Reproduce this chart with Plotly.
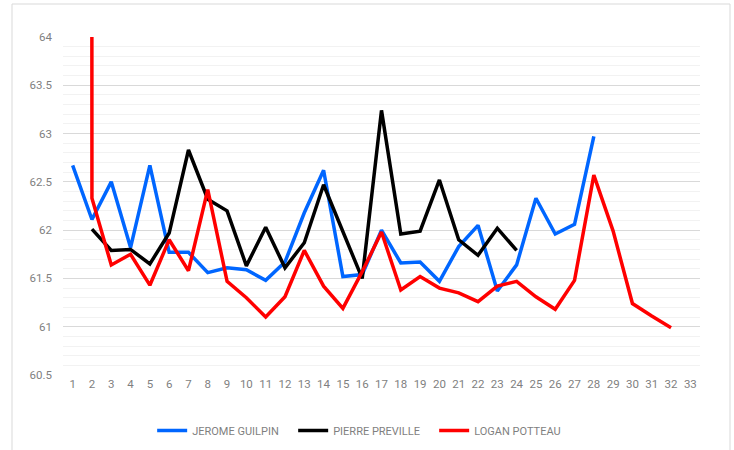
import plotly.graph_objects as go

rounds = list(range(1, 34))

jerome_x = list(range(1, 29))
jerome = [62.67, 62.11, 62.50, 61.82, 62.67, 61.77, 61.77, 61.56, 61.61, 61.59,
          61.48, 61.67, 62.18, 62.62, 61.52, 61.54, 62.00, 61.66, 61.67, 61.47,
          61.83, 62.05, 61.37, 61.64, 62.33, 61.96, 62.06, 62.97]

pierre_x = list(range(2, 25))
pierre = [62.01, 61.79, 61.80, 61.65, 61.97, 62.83, 62.32, 62.20, 61.63, 62.03,
          61.61, 61.87, 62.47, 61.99, 61.50, 63.24, 61.96, 61.99, 62.52, 61.90,
          61.74, 62.02, 61.79]

logan_x = list(range(1, 33))
logan = [500.0, 62.33, 61.64, 61.75, 61.43, 61.90, 61.58, 62.42, 61.47, 61.30,
         61.10, 61.31, 61.79, 61.42, 61.19, 61.57, 61.98, 61.38, 61.52, 61.40,
         61.35, 61.26, 61.42, 61.47, 61.31, 61.18, 61.48, 62.57, 61.99, 61.24,
         61.11, 60.99]

y_ticks = [60.5, 61, 61.5, 62, 62.5, 63, 63.5, 64]

fig = go.Figure()
fig.add_trace(go.Scatter(x=jerome_x, y=jerome, mode="lines", name="JEROME GUILPIN",
                         line=dict(color="#0066FF", width=3.5)))
fig.add_trace(go.Scatter(x=pierre_x, y=pierre, mode="lines", name="PIERRE PREVILLE",
                         line=dict(color="#000000", width=3.5)))
fig.add_trace(go.Scatter(x=logan_x, y=logan, mode="lines", name="LOGAN POTTEAU",
                         line=dict(color="#FF0000", width=3.5)))

L, R, T, B = 63, 34, 37, 75
W, H = 734, 450
pw, ph = W - L - R, H - T - B

fig.update_layout(
    width=W, height=H,
    margin=dict(l=L, r=R, t=T, b=B, autoexpand=False),
    paper_bgcolor="white", plot_bgcolor="white",
    font=dict(family="Roboto, Liberation Sans, sans-serif", size=11, color="#7f7f7f"),
    showlegend=True,
    legend=dict(orientation="h", x=0.472, xanchor="center", y=-0.121, yanchor="top",
                font=dict(size=11, color="#7f7f7f"), itemwidth=30,
                traceorder="normal", entrywidth=96),
    xaxis=dict(range=[0.5, 33.5], tickmode="array", tickvals=rounds,
               ticktext=[str(r) for r in rounds], showgrid=False, zeroline=False,
               showline=False, ticks="", automargin=False,
               tickfont=dict(size=11.5, color="#7f7f7f")),
    yaxis=dict(range=[60.5, 64], tickmode="array", tickvals=y_ticks,
               ticktext=[f"{v:g}" for v in y_ticks], showgrid=True,
               gridcolor="#d9d9d9", gridwidth=1, zeroline=False, showline=False,
               ticks="", ticklabelstandoff=10, automargin=False,
               minor=dict(dtick=0.1, showgrid=True, gridcolor="#f2f2f2", gridwidth=1),
               tickfont=dict(size=11.5, color="#7f7f7f")),
    shapes=[dict(type="rect", xref="paper", yref="paper",
                 x0=(12 - L) / pw, x1=(730 - L) / pw,
                 y0=-(H + 20 - T - ph) / ph - 0.01, y1=1 + (T - 4) / ph,
                 line=dict(color="#d9d9d9", width=1), fillcolor="rgba(0,0,0,0)",
                 layer="below")],
)

fig.write_html("out.html", config={"displayModeBar": False},
               post_script="document.body.style.margin='0';document.body.style.overflow='hidden';")
